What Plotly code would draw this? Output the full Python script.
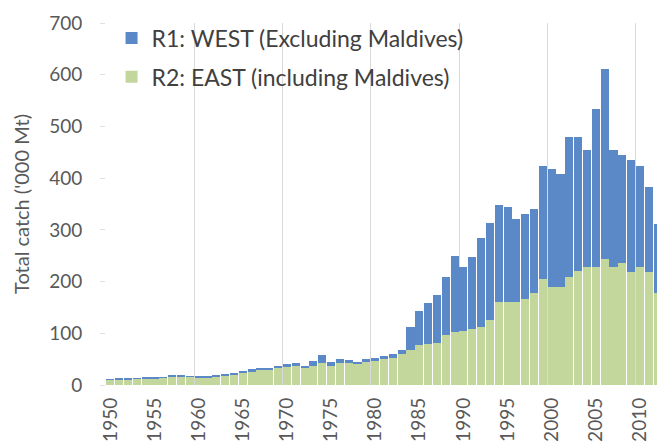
import plotly.graph_objects as go

years = list(range(1950, 2013))

# stacked totals ('000 Mt)
total = [11, 12, 12, 13, 14, 14, 15, 18, 18, 17,
         16, 16, 18, 20, 23, 26, 30, 32, 33, 36,
         40, 42, 37, 46, 58, 44, 50, 48, 45, 50,
         53, 56, 59, 68, 112, 144, 158, 175, 209, 250,
         228, 247, 285, 313, 349, 345, 321, 331, 340, 423,
         418, 408, 480, 479, 454, 534, 611, 454, 445, 435,
         423, 382, 312]

east = [10, 11, 11, 12, 13, 13, 14, 17, 17, 16,
        15, 15, 17, 19, 21, 24, 27, 29, 30, 32,
        35, 37, 32, 37, 42, 37, 43, 43, 40, 44,
        47, 50, 53, 60, 68, 78, 79, 82, 96, 103,
        105, 108, 113, 126, 160, 160, 160, 166, 178, 205,
        190, 190, 209, 220, 229, 229, 244, 228, 236, 219,
        228, 218, 177]

west = [t - e for t, e in zip(total, east)]

tick_years = list(range(1950, 2011, 5))
decades = list(range(1950, 2011, 10))
y_ticks = list(range(0, 701, 100))

font = "Lato"
grey = "#595959"

fig = go.Figure()
fig.add_trace(go.Bar(x=years, y=east, name="R2: EAST (including Maldives)",
                     marker=dict(color="#C3D69B", line=dict(width=0)),
                     legendgroup="east", legendrank=2))
fig.add_trace(go.Bar(x=years, y=west, name="R1: WEST (Excluding Maldives)",
                     marker=dict(color="#5B88C6", line=dict(width=0)),
                     legendgroup="west", legendrank=1))

# the page body adds 8px around the plot, so the figure is 8px smaller
fig.update_layout(
    width=657, height=437,
    margin=dict(l=98, r=3, t=12, b=59),
    barmode="stack", bargap=0.08,
    plot_bgcolor="white", paper_bgcolor="white",
    font=dict(family=font, color=grey),
    legend=dict(x=0.01, y=1.018, xanchor="left", yanchor="top",
                traceorder="grouped", tracegroupgap=6,
                font=dict(size=23, color="#404040"),
                bgcolor="rgba(0,0,0,0)", itemwidth=30),
    xaxis=dict(range=[1949.5, 2012.5], tickmode="array",
               tickvals=tick_years, ticktext=[str(y) for y in tick_years],
               tickangle=-90, tickfont=dict(size=19, color=grey),
               showgrid=False, zeroline=False, showline=False, ticks="",
               ticklabelstandoff=8,
               minor=dict(tickmode="array", tickvals=[d - 0.5 for d in decades],
                          showgrid=True, gridcolor="#D9D9D9", gridwidth=1, ticks="")),
    yaxis=dict(range=[0, 700], tickmode="array", tickvals=y_ticks,
               tickfont=dict(size=19, color=grey), ticklabeloverflow="allow",
               showgrid=False, zeroline=False, showline=False,
               ticks="outside", ticklen=5, tickcolor="#E0E0E0",
               ticklabelstandoff=14,
               title=dict(text="Total catch ('000 Mt)", font=dict(size=20, color=grey),
                          standoff=14)),
)

fig.write_html("out.html")
